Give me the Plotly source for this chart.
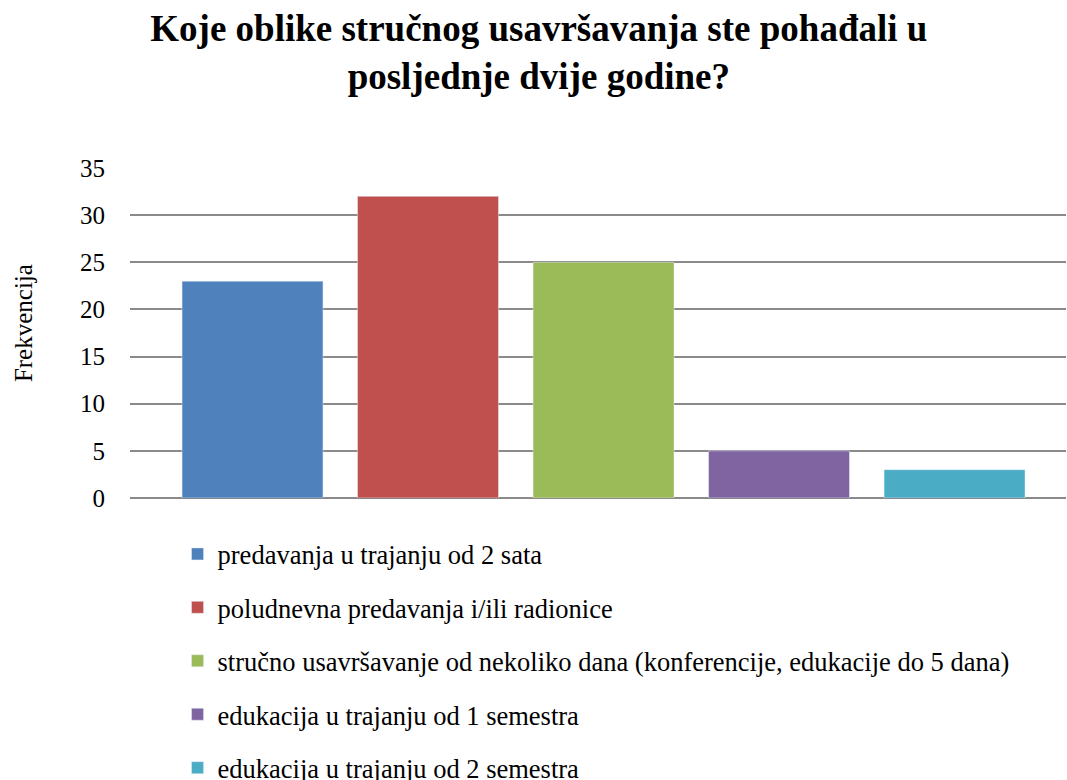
import plotly.graph_objects as go

categories = [
    "predavanja u trajanju od 2 sata",
    "poludnevna predavanja i/ili radionice",
    "stručno usavršavanje od nekoliko dana (konferencije, edukacije do 5 dana)",
    "edukacija u trajanju od 1 semestra",
    "edukacija u trajanju od 2 semestra",
]
values = [23, 32, 25, 5, 3]
colors = ["#4F81BD", "#C0504D", "#9BBB59", "#8064A2", "#4BACC6"]
y_title = "Frekvencija"

fig = go.Figure()
for i, (c, v, col) in enumerate(zip(categories, values, colors)):
    fig.add_trace(go.Bar(
        x=[i], y=[v], name=c, marker_color=col, width=0.803,
        legendgroup=f"g{i}",
    ))

font_family = "Liberation Serif"
fig.update_layout(
    width=1067, height=780,
    barmode="overlay",
    paper_bgcolor="white", plot_bgcolor="white",
    font=dict(family=font_family, color="black", size=25),
    title=dict(
        text="<b>Koje oblike stručnog usavršavanja ste pohađali u<br>posljednje dvije godine?</b>",
        x=0.505, xanchor="center", xref="container",
        y=0.9476, yanchor="top", yref="container",
        font=dict(size=37, family=font_family, color="black"),
    ),
    margin=dict(l=130, r=1, t=168, b=282, autoexpand=False),
    showlegend=True,
    legend=dict(
        orientation="v", x=0.1664, xanchor="left", xref="container",
        y=0.3203, yanchor="top", yref="container",
        font=dict(size=26.5, family=font_family), tracegroupgap=16,
        itemwidth=30, bgcolor="rgba(0,0,0,0)",
    ),
    xaxis=dict(range=[-0.698, 4.635], showticklabels=False, showgrid=False,
               zeroline=False, showline=False, fixedrange=True),
    yaxis=dict(range=[0, 35], dtick=5, showgrid=True, gridcolor="#8A8A8A",
               gridwidth=1.5, zeroline=True, zerolinecolor="#8A8A8A", zerolinewidth=1.5,
               ticklabelstandoff=24, tickfont=dict(size=25, family=font_family)),
    annotations=[dict(
        text=y_title, textangle=-90, showarrow=False,
        xref="paper", yref="paper", x=-0.1143, y=0.530,
        xanchor="center", yanchor="middle",
        font=dict(size=25, family=font_family, color="black"),
    )],
)
fig.write_html("out.html",
               config={"displayModeBar": False},
               post_script="document.body.style.margin='0';document.body.style.overflow='hidden';")
